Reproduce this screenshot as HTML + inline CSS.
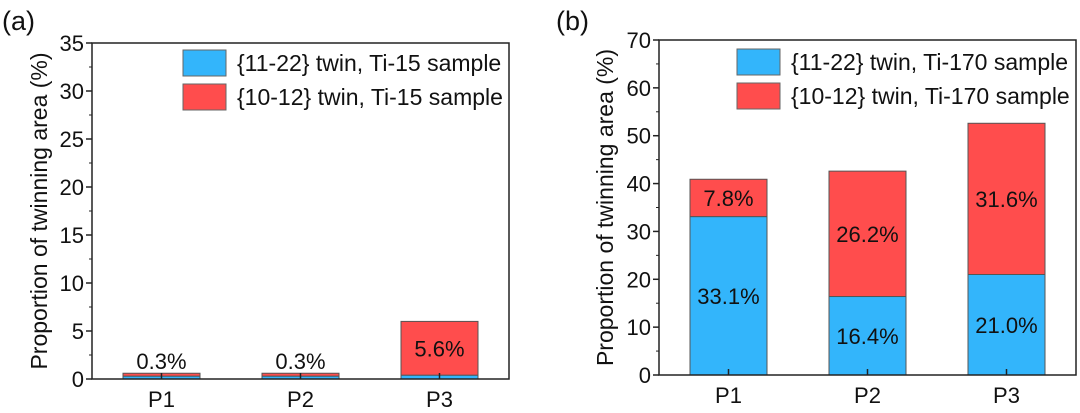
<!DOCTYPE html>
<html><head><meta charset="utf-8"><style>
body{margin:0;background:#fff;width:1080px;height:408px;overflow:hidden}
svg text{font-family:"Liberation Sans","DejaVu Sans",sans-serif;fill:#111}
</style></head><body>
<svg id="s" width="1080" height="408" xmlns="http://www.w3.org/2000/svg"></svg>
<script>
const categories=["P1","P2","P3"];
const aBlue=[0.3,0.3,0.4];
const aRed=[0.3,0.3,5.6];
const aLabels=["0.3%","0.3%","5.6%"];
const bBlue=[33.1,16.4,21.0];
const bRed=[7.8,26.2,31.6];
const bBlueLabels=["33.1%","16.4%","21.0%"];
const bRedLabels=["7.8%","26.2%","31.6%"];
const aTicks=[0,5,10,15,20,25,30,35];
const bTicks=[0,10,20,30,40,50,60,70];
const NS="http://www.w3.org/2000/svg";
const svg=document.getElementById('s');
function mk(t,a,p,txt){const e=document.createElementNS(NS,t);for(const k in a)e.setAttribute(k,a[k]);if(txt!==undefined)e.textContent=txt;(p||svg).appendChild(e);return e;}
function panel(o){
  const g=mk('g',{});
  
  
  const L=o.l,R=o.r,T=o.t,B=o.b,max=o.max;
  const y=v=>B-(v/max)*(B-T);
  const bw=(R-L)/categories.length;
  const x=i=>L+bw*(i+0.5);
  const barW=77;
  categories.forEach((c,i)=>{
    const b=mk('rect',{x:x(i)-barW/2,y:y(o.blue[i]),width:barW,height:B-y(o.blue[i]),fill:'#33b5fb',stroke:'#555','stroke-width':1},g);
    
    
    const r=mk('rect',{x:x(i)-barW/2,y:y(o.blue[i]+o.red[i]),width:barW,height:y(o.blue[i])-y(o.blue[i]+o.red[i]),fill:'#ff4d4d',stroke:'#555','stroke-width':1},g);
    
    
    mk('line',{x1:x(i),x2:x(i),y1:B,y2:B-6,stroke:'#222','stroke-width':1.5},g);
    const tl=mk('text',{x:x(i),y:B+28,'font-size':22,'text-anchor':'middle'},g,c);
    
    
    o.labels(i,x,y,g);
  });
  mk('rect',{x:L,y:T,width:R-L,height:B-T,fill:'none',stroke:'#222','stroke-width':1.5},g);
  const step=o.ticks[1]-o.ticks[0];
  o.ticks.forEach((v,k)=>{
    mk('line',{x1:L,x2:L-6,y1:y(v),y2:y(v),stroke:'#222','stroke-width':1.5},g);
    if(k<o.ticks.length-1)mk('line',{x1:L,x2:L-3,y1:y(v+step/2),y2:y(v+step/2),stroke:'#222','stroke-width':1},g);
    const t=mk('text',{x:L-8,y:y(v)+8,'font-size':22,'text-anchor':'end'},g,v);
    
    
  });
  const yt=mk('text',{x:0,y:0,'font-size':23,'text-anchor':'middle',transform:`translate(${o.ytx},${(T+B)/2}) rotate(-90)`},g,'Proportion of twinning area (%)');
  
  
  const pl=mk('text',{x:o.plx,y:30,'font-size':27},g,o.plabel);
  
  
  [['#33b5fb','{11-22} twin, '+o.sample],['#ff4d4d','{10-12} twin, '+o.sample]].forEach((e,k)=>{
    const lg=mk('g',{},g);
    
    
    mk('rect',{x:o.lx,y:o.ly+k*34,width:43,height:26,fill:e[0],stroke:'#666','stroke-width':1},lg);
    mk('text',{x:o.lx+54,y:o.ly+k*34+21,'font-size':23},lg,e[1]);
  });
}
panel({name:'panel-a',l:92,r:509,t:43,b:379,max:35,blue:aBlue,red:aRed,ticks:aTicks,ytx:47,plx:2,plabel:'(a)',lx:183,ly:50,sample:'Ti-15 sample',
  labels:(i,x,y,g)=>{
    const top=y(aBlue[i]+aRed[i]);
    const ty=aRed[i]>2?(top+y(aBlue[i]))/2+8:top-4;
    const t=mk('text',{x:x(i),y:ty,'font-size':22,'text-anchor':'middle'},g,aLabels[i]);
    
    
  }});
panel({name:'panel-b',l:659,r:1076,t:40,b:375,max:70,blue:bBlue,red:bRed,ticks:bTicks,ytx:613,plx:556,plabel:'(b)',lx:737,ly:49,sample:'Ti-170 sample',
  labels:(i,x,y,g)=>{
    const t1=mk('text',{x:x(i),y:(y(0)+y(bBlue[i]))/2+8,'font-size':22,'text-anchor':'middle'},g,bBlueLabels[i]);
    
    
    const t2=mk('text',{x:x(i),y:(y(bBlue[i])+y(bBlue[i]+bRed[i]))/2+8,'font-size':22,'text-anchor':'middle'},g,bRedLabels[i]);
    
    
  }});
</script>
</body></html>
